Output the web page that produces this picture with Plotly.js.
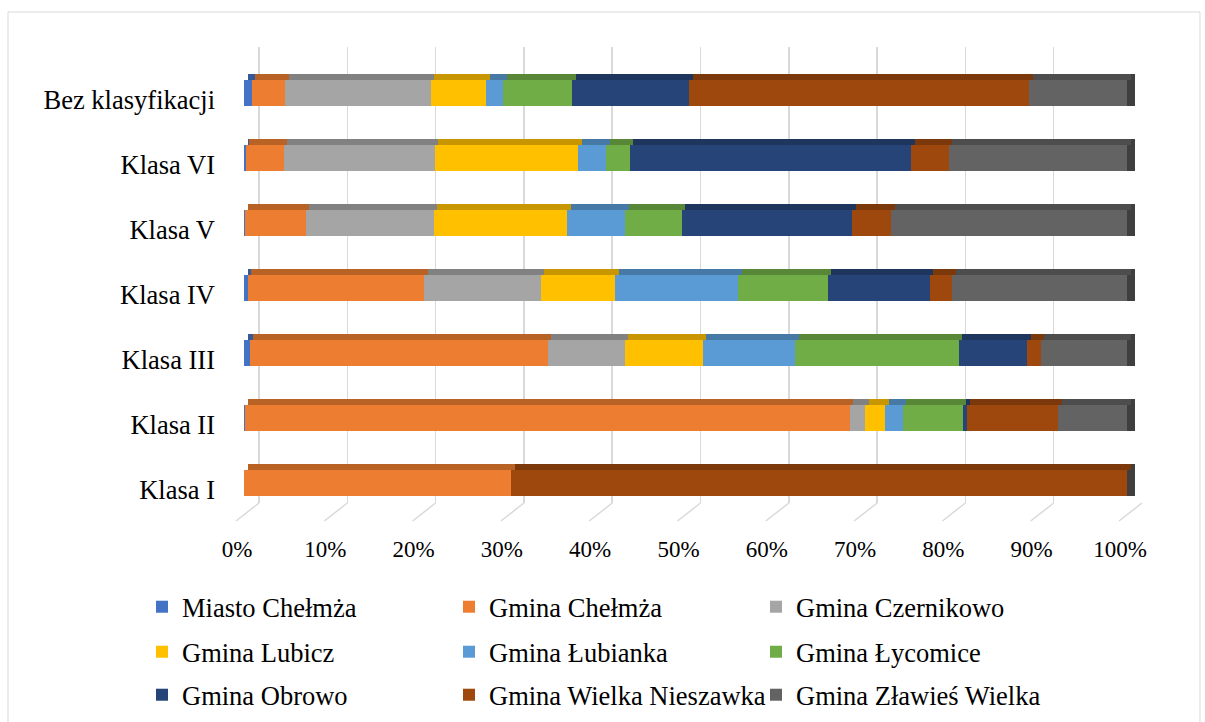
<!DOCTYPE html>
<html><head><meta charset="utf-8">
<script src="https://cdn.plot.ly/plotly-3.0.1.min.js"></script>
<style>html,body{margin:0;padding:0;background:#fff;} #chart{width:1205px;height:722px;}</style>
</head><body><div id="chart"></div>
<script>
// ---------- DATA ----------
const categories = ['Klasa I','Klasa II','Klasa III','Klasa IV','Klasa V','Klasa VI','Bez klasyfikacji'];
const seriesNames = ['Miasto Chełmża','Gmina Chełmża','Gmina Czernikowo','Gmina Lubicz','Gmina Łubianka','Gmina Łycomice','Gmina Obrowo','Gmina Wielka Nieszawka','Gmina Zławieś Wielka'];
const miastoChelmza        = [0,     0.1,  0.65,  0.4,   0.1,   0.2,   0.85];
const gminaChelmza         = [30.25, 68.5, 33.75, 20.0,  6.9,   4.3,   3.8];
const gminaCzernikowo      = [0,     1.75, 8.7,   13.2,  14.5,  17.1,  16.5];
const gminaLubicz          = [0,     2.25, 8.85,  8.45,  15.1,  16.25, 6.3];
const gminaLubianka        = [0,     2.0,  10.5,  13.95, 6.55,  3.15,  1.9];
const gminaLycomice        = [0,     6.8,  18.5,  10.1,  6.4,   2.7,   7.85];
const gminaObrowo          = [0,     0.45, 7.75,  11.55, 19.35, 31.85, 13.2];
const gminaWielkaNieszawka = [69.75, 10.35, 1.55, 2.55,  4.4,   4.25,  38.55];
const gminaZlawiesWielka   = [0,     7.8,  9.75,  19.8,  26.7,  20.2,  11.05];
const tickValues = [0,10,20,30,40,50,60,70,80,90,100];
const tickLabels = ['0%','10%','20%','30%','40%','50%','60%','70%','80%','90%','100%'];

// ---------- STYLE ----------
const seriesValues = [miastoChelmza,gminaChelmza,gminaCzernikowo,gminaLubicz,gminaLubianka,gminaLycomice,gminaObrowo,gminaWielkaNieszawka,gminaZlawiesWielka];
const colors = ['#4472C4','#ED7D31','#A5A5A5','#FFC000','#5B9BD5','#70AD47','#264478','#9E480E','#636363'];
const legendIds = ['legend','legend','legend','legend2','legend2','legend2','legend3','legend3','legend3'];
function darker(hex,f){
  const n=parseInt(hex.slice(1),16);
  const r=Math.round(((n>>16)&255)*f),g=Math.round(((n>>8)&255)*f),b=Math.round((n&255)*f);
  return '#'+[r,g,b].map(v=>v.toString(16).padStart(2,'0')).join('');
}
const W=1205,H=722;
const serif='"Liberation Serif","Times New Roman",serif';
const domL=244, domR=1142;
const gridTop=47, gridBot=503;
const barZero=244, barHundred=1127;
const pxPerUnit=(barHundred-barZero)/100;
const wallShift=15;
const topShift=3.5;
const floorDx=23, floorDy=18;
const catPx=65;
const firstCenter=483, lastCenter=93;

const xDom=[domL/W,domR/W];
const yDom=[1-gridBot/H,1-gridTop/H];
const xr2=[0,(domR-domL)/pxPerUnit];
const xr1=[-wallShift/pxPerUnit, xr2[1]-wallShift/pxPerUnit];
const xr3=[-topShift/pxPerUnit, xr2[1]-topShift/pxPerUnit];
const yr2=[-(gridBot-firstCenter)/catPx, (categories.length-1)+(lastCenter-gridTop)/catPx];

const frontHalf=0.2, topDepth=6/catPx;

const totals=categories.map((c,i)=>seriesValues.reduce((s,a)=>s+a[i],0));
const traces=[];
traces.push({type:'scatter',mode:'markers',x:[],y:[],xaxis:'x',yaxis:'y',showlegend:false,hoverinfo:'skip'});
traces.push({type:'bar',orientation:'h',y:categories,x:categories.map(()=>7.5/pxPerUnit),base:totals,
  xaxis:'x2',yaxis:'y2',offset:-frontHalf,width:2*frontHalf+topDepth,marker:{color:'#3F3F3F',line:{width:0}},
  showlegend:false,hoverinfo:'skip'});
const cum=categories.map(()=>0);
seriesValues.forEach((vals,k)=>{
  const base=cum.slice();
  traces.push({type:'bar',orientation:'h',name:seriesNames[k],y:categories,x:vals,base:base,
    xaxis:'x2',yaxis:'y2',offset:-frontHalf,width:2*frontHalf,
    marker:{color:colors[k],line:{width:0}},legend:legendIds[k]});
  traces.push({type:'bar',orientation:'h',y:categories,x:vals,base:base,
    xaxis:'x3',yaxis:'y2',offset:frontHalf,width:topDepth,
    marker:{color:darker(colors[k],0.78),line:{width:0}},showlegend:false,hoverinfo:'skip'});
  vals.forEach((v,i)=>cum[i]+=v);
});

const shapes=[];
tickValues.forEach(v=>{
  const bx=barZero+wallShift+v*pxPerUnit;
  shapes.push({type:'line',xref:'paper',yref:'paper',x0:bx/W,y0:1-gridBot/H,x1:(bx-floorDx)/W,y1:1-(gridBot+floorDy)/H,
    line:{color:'#D9D9D9',width:1.5}});
});
shapes.push({type:'rect',xref:'paper',yref:'paper',x0:8/W,y0:1-12/H,x1:1200/W,y1:-0.05,line:{color:'#D9D9D9',width:1},fillcolor:'rgba(0,0,0,0)'});

const legendBase={orientation:'h',xanchor:'left',yanchor:'middle',x:142/W,entrywidth:262,entrywidthmode:'pixels',
  font:{family:serif,size:26.5,color:'#000'},bgcolor:'rgba(0,0,0,0)',borderwidth:0,traceorder:'normal'};

const layout={
  width:W,height:H,margin:{l:0,r:0,t:0,b:0},paper_bgcolor:'#fff',plot_bgcolor:'rgba(0,0,0,0)',
  barmode:'overlay',bargap:0,showlegend:true,
  xaxis:{domain:xDom,range:xr1,anchor:'y',showgrid:true,gridcolor:'#D9D9D9',gridwidth:1.5,
    zeroline:false,showline:false,ticks:'',tickmode:'array',tickvals:tickValues,ticktext:tickLabels,
    tickfont:{family:serif,size:23,color:'#000'},ticklabelshift:-(wallShift+7),ticklabelstandoff:30,fixedrange:true},
  yaxis:{domain:yDom,range:[0,1],visible:false,showgrid:false,zeroline:false,fixedrange:true},
  xaxis2:{overlaying:'x',domain:xDom,range:xr2,visible:false,showgrid:false,zeroline:false,fixedrange:true},
  xaxis3:{overlaying:'x',domain:xDom,range:xr3,visible:false,showgrid:false,zeroline:false,fixedrange:true},
  yaxis2:{overlaying:'y',domain:yDom,anchor:'x',side:'left',type:'category',categoryorder:'array',categoryarray:categories,
    range:yr2,showgrid:false,zeroline:false,showline:false,ticks:'',
    tickfont:{family:serif,size:26.5,color:'#000'},ticklabelshift:7,ticklabelstandoff:28,fixedrange:true},
  legend:Object.assign({},legendBase,{y:1-607/H}),
  legend2:Object.assign({},legendBase,{y:1-652/H}),
  legend3:Object.assign({},legendBase,{y:1-695/H}),
  shapes:shapes
};
Plotly.newPlot('chart',traces,layout,{displayModeBar:false,staticPlot:true});
</script></body></html>
